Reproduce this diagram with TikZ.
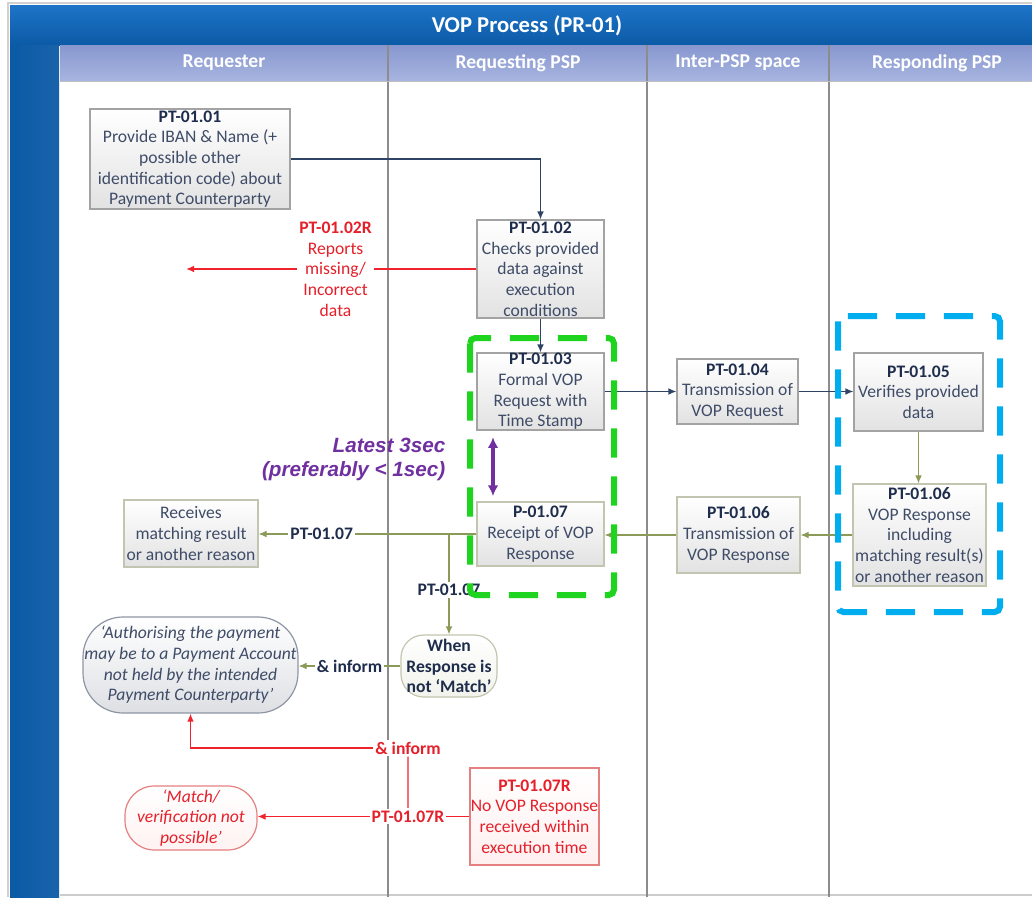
\documentclass[tikz,border=0pt]{standalone}
\usepackage{fontspec}
\setmainfont{Carlito}
\newfontfamily\arialfont{Liberation Sans}
\usetikzlibrary{arrows.meta}
\definecolor{titleA}{HTML}{1E74C8}
\definecolor{titleB}{HTML}{0B5AA6}
\definecolor{hdrA}{HTML}{8797CF}
\definecolor{hdrB}{HTML}{A8B5E0}
\definecolor{lanec}{HTML}{8C8C8C}
\definecolor{boxborder}{HTML}{A3A3A3}
\definecolor{boxbot}{HTML}{E2E2E2}
\definecolor{boxtext}{HTML}{3F4C68}
\definecolor{titlec}{HTML}{1F2D4D}
\definecolor{navyline}{HTML}{2F4465}
\definecolor{olive}{HTML}{8C9A58}
\definecolor{oliveb}{HTML}{C2C6B0}
\definecolor{redc}{HTML}{F0232B}
\definecolor{redt}{HTML}{E5202A}
\definecolor{redb}{HTML}{E58080}
\definecolor{purp}{HTML}{7030A0}
\definecolor{grn}{HTML}{1ED41E}
\definecolor{skyb}{HTML}{00AEEF}
\definecolor{authb}{HTML}{8E96A4}
\newcommand\bxfont{\fontsize{13.2}{15.5}\selectfont}
\newcommand\boxttl[1]{\textcolor{titlec}{\textbf{#1}}}
\newcommand\redttl[1]{\textbf{#1}}
\begin{document}
\begin{tikzpicture}[x=0.75pt,y=-0.75pt,
  span/.style n args={4}{at={({(#1+#3)/2},{(#2+#4)/2})},
    minimum width={(#3-#1)*0.75pt}, minimum height={(#4-#2)*0.75pt}},
  box/.style={draw=boxborder, line width=0.9pt, top color=white, bottom color=boxbot,
    inner sep=0pt, align=center, font=\bxfont, text=boxtext},
  gbox/.style={box, draw=oliveb},
  rbox/.style={draw=redb, line width=0.9pt, top color=white, bottom color=red!6,
    inner sep=0pt, align=center, font=\bxfont, text=redt},
  lane/.style={draw=lanec, line width=0.9pt},
  narrow/.style={draw=navyline, line width=0.9pt, -{Latex[length=6pt,width=5pt]}},
  garrow/.style={draw=olive, line width=0.9pt, -{Latex[length=6pt,width=5pt]}},
  rarrow/.style={draw=redc, line width=1.1pt, -{Latex[length=6pt,width=5pt]}},
  rline/.style={draw=redc, line width=1.1pt},
  lbl/.style={fill=white, inner sep=1.5pt, font=\bxfont\bfseries, text=titlec},
  rlbl/.style={fill=white, inner sep=1.5pt, font=\bxfont\bfseries, text=redt},
  hdr/.style={text=white, font=\fontsize{14.7}{16}\selectfont\bfseries},
  dashbox/.style={line width=4.5pt, dash pattern=on 22pt off 14pt, rounded corners=4pt}
]
\useasboundingbox (0,0) rectangle (1032,897);
% frame and bars
\fill[white] (0,0) rectangle (1032,897);
\draw[draw=black!18, line width=0.8pt] (8,897) -- (8,3) -- (1032,3);
\fill[top color=titleA, bottom color=titleB] (10,5) rectangle (1032,45);
\fill[left color=titleB, right color=titleA!85!black] (10,45) rectangle (59,897);
\fill[top color=hdrA, bottom color=hdrB] (60,45) rectangle (1032,81);
\draw[black!20, line width=0.8pt] (60,895) -- (1032,895);
\node[text=white, font=\fontsize{17}{19}\selectfont\bfseries] (title) at (527,26) {VOP Process (PR-01)};
\node[hdr] (h1) at (224,63) {Requester};
\node[hdr] (h2) at (518,63) {Requesting PSP};
\node[hdr] (h3) at (738,63) {Inter-PSP space};
\node[hdr] (h4) at (937,63) {Responding PSP};
% lanes
\draw[lane] (388,45) -- (388,897);
\draw[lane] (647,45) -- (647,897);
\draw[lane] (829,45) -- (829,897);
\draw[draw=black!25, line width=0.6pt] (60,81) -- (1032,81);

% boxes
\node[box, span={90}{109}{290}{209}] (n01) {\boxttl{PT-01.01}\\Provide IBAN \& Name (+\\possible other\\identification code) about\\Payment Counterparty};
\node[box, span={477}{220}{604}{318}] (n02) {\boxttl{PT-01.02}\\Checks provided\\data against\\execution\\conditions};
\node[box, span={477}{353}{604}{430}] (n03) {\boxttl{PT-01.03}\\Formal VOP\\Request with\\Time Stamp};
\node[box, span={677}{359}{798}{424}] (n04) {\boxttl{PT-01.04}\\Transmission of\\VOP Request};
\node[box, span={854}{353}{983}{431}] (n05) {\boxttl{PT-01.05}\\Verifies provided\\data};
\node[gbox, span={853}{484}{986}{586}] (n06r) {\boxttl{PT-01.06}\\VOP Response\\including\\matching result(s)\\or another reason};
\node[gbox, span={677}{497}{800}{573}] (n06m) {\boxttl{PT-01.06}\\Transmission of\\VOP Response};
\node[gbox, span={477}{502}{604}{566}] (p107) {\boxttl{P-01.07}\\Receipt of VOP\\Response};
\node[gbox, span={124}{500}{258}{567}] (rcv) {Receives\\matching result\\or another reason};
\node[gbox, draw=oliveb, rounded corners=17pt, bottom color=olive!12, span={401}{635}{497}{697},
  font=\bxfont\bfseries, text=titlec] (when) {When\\Response is\\not ‘Match’};
\node[box, draw=authb, rounded corners=30pt, bottom color=authb!30, span={83}{617}{298}{713},
  font=\bxfont\itshape] (auth) {‘Authorising the payment\\may be to a Payment Account\\not held by the intended\\Payment Counterparty’};
\node[rbox, rounded corners=22pt, bottom color=red!5, span={125}{786}{257}{850}, font=\bxfont\itshape] (match) {‘Match/\\verification not\\possible’};
\node[rbox, span={470}{768}{599}{865}] (r107) {\redttl{PT-01.07R}\\No VOP Response\\received within\\execution time};

% connectors
\draw[narrow] (n01.east) -| (n02.north);
\draw[narrow] (n02.south) -- (n02.south |- n03.north);
\draw[narrow] (n03.east) -- (n03.east -| n04.west);
\draw[narrow] (n04.east) -- (n04.east -| n05.west);
\draw[garrow] (n05.south) -- (n05.south |- n06r.north);
\draw[garrow] (n06r.west) -- (n06r.west -| n06m.east);
\draw[garrow] (n06m.west) -- (n06m.west -| p107.east);
\draw[garrow] (p107.west) -- node[lbl, pos=0.71] (l107) {PT-01.07} (p107.west -| rcv.east);
\draw[garrow] (when.north |- p107.west) -- node[lbl, pos=0.56] (l107b) {PT-01.07} (when.north);
\draw[garrow] (when.west) -- node[lbl, pos=0.5] (linf) {\& inform} (when.west -| auth.east);

\coordinate (e02) at (186,269);
\draw[rarrow] (n02.west) -- node[rlbl, pos=0.485, align=center, font=\bxfont, inner sep=2pt] (l02R)
  {\redttl{PT-01.02R}\\Reports\\missing/\\Incorrect\\data} (n02.west -| e02);
\draw[rarrow] (r107.west) -- node[rlbl, pos=0.29] (l7R) {PT-01.07R} (r107.west -| match.east);
\node[rlbl] (inf2) at (408,748) {\& inform};
\draw[rline] (l7R) -- (inf2);
\draw[rarrow] (inf2.west) -| (auth.south);

% timing
\coordinate (pa) at (493,0);
\draw[draw=purp, line width=2.4pt, {Latex[length=8pt,width=8pt]}-{Latex[length=8pt,width=8pt]}]
  ([yshift=-5pt]pa |- n03.south) -- ([yshift=4pt]pa |- p107.north);
\node[anchor=east, align=right, text=purp, font=\arialfont\fontsize{15.5}{18}\selectfont\bfseries\itshape] (ptxt) at (450,459)
  {Latest 3sec\\(preferably < 1sec)};

% highlight boxes
\draw[dashbox, draw=grn] (470,338) rectangle (614,595);
\draw[dashbox, draw=skyb] (838,316) rectangle (1000,612);
\end{tikzpicture}
\end{document}
